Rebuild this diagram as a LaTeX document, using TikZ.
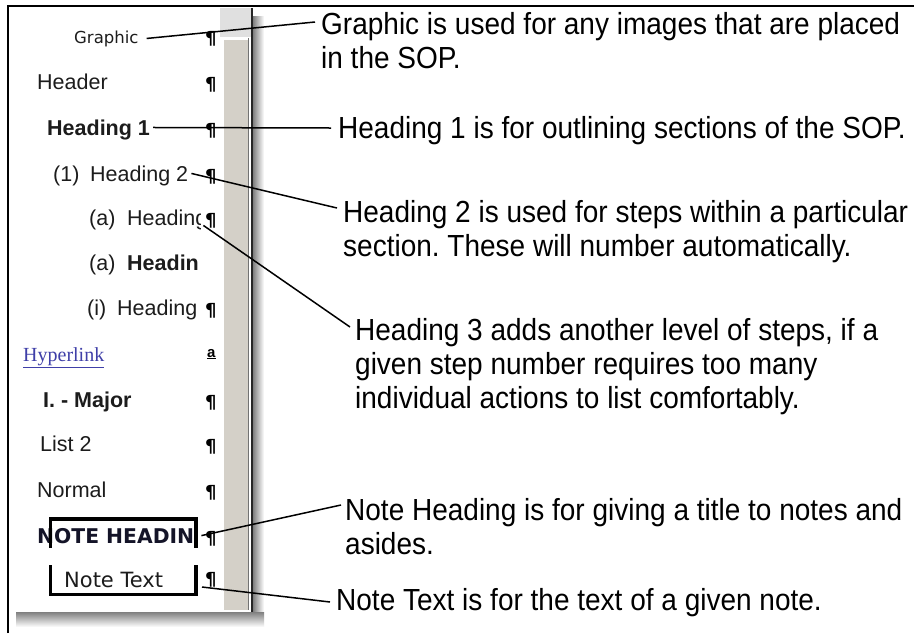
\documentclass[tikz,border=0pt]{standalone}
\usepackage{fontspec}
\setmainfont{Liberation Sans}
\newfontfamily\annfont[FakeStretch=0.918]{Liberation Sans}
\newfontfamily\dvsans{DejaVu Sans}
\newfontfamily\tmsfont{Liberation Serif}
\definecolor{paneltext}{HTML}{1C1C1C}
\definecolor{linkblue}{HTML}{3F3FA8}
\definecolor{notecol}{HTML}{141428}
\definecolor{stripgray}{HTML}{D4D0C8}
\definecolor{dotgray}{HTML}{E0E0E0}
\begin{document}
\frenchspacing
\begin{tikzpicture}[x=1pt,y=-1pt,
  pan/.style={anchor=base west, inner sep=0pt, text=paneltext, font=\fontsize{21.5}{24}\selectfont},
  panb/.style={pan, font=\bfseries\fontsize{21.5}{24}\selectfont},
  ann/.style={anchor=base west, inner sep=0pt, text=black, font=\annfont\fontsize{30.5}{34}\selectfont},
  pil/.style={anchor=base west, inner sep=0pt, text=black, font=\dvsans\bfseries\fontsize{18}{19}\selectfont},
  conn/.style={line width=1.5pt, black},
  notebar/.style={line width=3.8pt, black, line join=miter, line cap=rect}]
\useasboundingbox (0,0) rectangle (914,633);
\fill[white] (0,0) rectangle (914,633);
% shadows
\shade[left color=black!50, right color=white] (253,16) rectangle (264,624);
\shade[top color=black!50, bottom color=white] (16,612) rectangle (264,627);
% panel
\fill[white] (10,8) rectangle (253,612);
\fill[dotgray] (220,8) rectangle (252,37);
\fill[stripgray] (222,38) rectangle (249,610);
\draw[white, line width=1.5pt] (222.8,610) -- (222.8,38.8) -- (249,38.8);
\draw[black!55, line width=1pt] (248.5,38) -- (248.5,610);
\draw[black!85, line width=1.4pt] (252,8) -- (252,612);
% frame
\draw[line width=1.4pt] (8,633) -- (8,6) -- (914,6);
% panel texts
\node[pan, font=\dvsans\fontsize{16.5}{18}\selectfont] (gr) at (74,43) {Graphic};
\node[pan] (hdr) at (37,89) {Header};
\node[panb] (h1) at (47,135) {Heading 1};
\node[pan] (h2) at (53,181) {\makebox[37pt][l]{(1)}Heading 2};
\begin{scope}
\clip (0,200) rectangle (200.5,240);
\node[pan] (h3) at (89,225) {\makebox[38pt][l]{(a)}\makebox[73pt][l]{Heading}};
\end{scope}
\node[pan] (h4) at (89,270) {\makebox[38pt][l]{(a)}\textbf{Headin}};
\node[pan] (h5) at (87,315) {\makebox[30pt][l]{(i)}Heading};
\node[pan, font=\tmsfont\fontsize{20}{22}\selectfont, text=linkblue] (hl) at (23,361) {\underline{Hyperlink}};
\node[panb] (maj) at (43,407) {I. - Major};
\node[pan] (l2) at (40,451) {List 2};
\node[pan] (nor) at (37,497) {Normal};
\node[pan, font=\dvsans\bfseries\fontsize{20.3}{22}\selectfont, text=notecol] (nh) at (37,543) {NOTE HEADIN};
\node[pan, font=\dvsans\fontsize{21}{22}\selectfont] (nt) at (64,587) {Note Text};
% note boxes
\draw[notebar] (50.5,546) -- (50.5,519) -- (196,519) -- (196,546);
\draw[notebar] (50.5,567) -- (50.5,594.5) -- (196,594.5) -- (196,567);
\coordinate (ntbox) at (198,587);
% pilcrows
\node[pil] (p1) at (205,44) {¶};
\node[pil] (p2) at (205,90) {¶};
\node[pil] (p3) at (205,136) {¶};
\node[pil] (p4) at (205,182) {¶};
\node[pil] (p5) at (205,226) {¶};
\node[pil] (p6) at (205,316) {¶};
\node[pil, font=\bfseries\fontsize{15}{16}\selectfont] (p7) at (207,357) {\underline{a}};
\node[pil] (p8) at (205,408) {¶};
\node[pil] (p9) at (205,452) {¶};
\node[pil] (p10) at (205,498) {¶};
\node[pil] (p11) at (205,544) {¶};
\node[pil] (p12) at (205,585) {¶};
% annotations
\node[ann] (t1a) at (321,34) {Graphic is used for any images that are placed};
\node[ann] (t1b) at (321,68) {in the SOP.};
\node[ann] (t2) at (338,138) {Heading 1 is for outlining sections of the SOP.};
\node[ann] (t3a) at (343,222) {Heading 2 is used for steps within a particular};
\node[ann] (t3b) at (343,256) {section. These will number automatically.};
\node[ann] (t4a) at (355,340) {Heading 3 adds another level of steps, if a};
\node[ann] (t4b) at (355,374) {given step number requires too many};
\node[ann] (t4c) at (355,408) {individual actions to list comfortably.};
\node[ann] (t5a) at (345,520) {Note Heading is for giving a title to notes and};
\node[ann] (t5b) at (345,554) {asides.};
\node[ann] (t6) at (336,610) {Note Text is for the text of a given note.};
% connector ends
\coordinate (e1) at (315,22);
\coordinate (e2) at (331,128);
\coordinate (e3) at (337,208);
\coordinate (e4) at (350,327);
\coordinate (e5) at (341,505);
\coordinate (e6) at (330,602);
\draw[conn] ([xshift=8pt]gr.east) -- (e1);
\draw[conn] ([xshift=3pt,yshift=2pt]h1.east) -- (e2);
\draw[conn] ([xshift=3pt,yshift=2pt]h2.east) -- (e3);
\draw[conn] ([xshift=3pt,yshift=-6pt]h3.east) -- (e4);
\draw[conn] ([xshift=7pt]nh.east) -- (e5);
\draw[conn] ([xshift=4pt]ntbox) -- (e6);
\end{tikzpicture}
\end{document}
